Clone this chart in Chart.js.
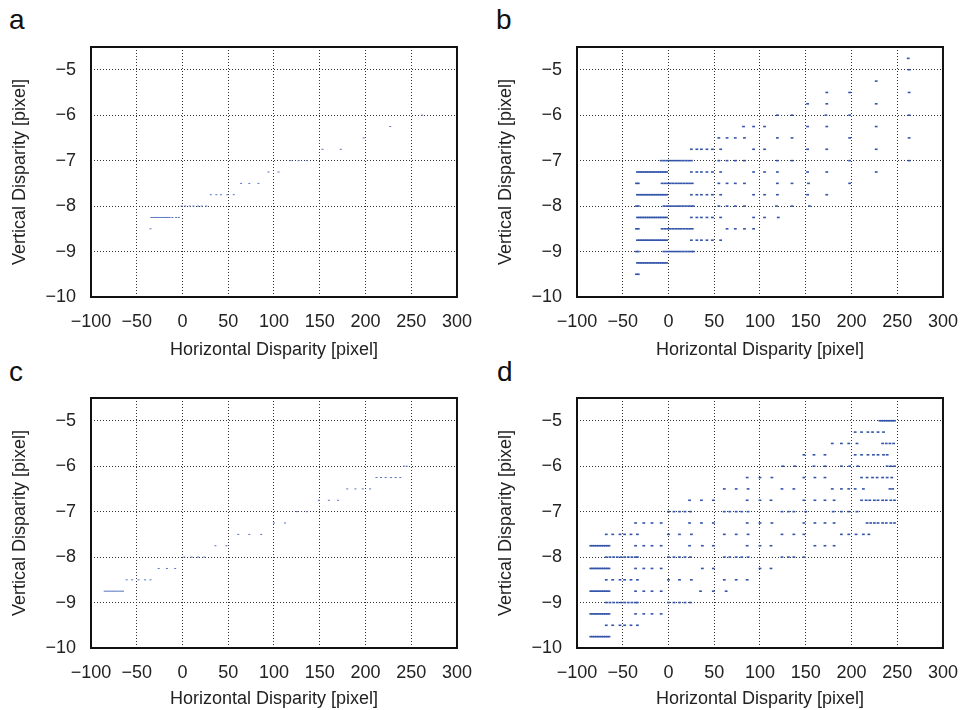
<!DOCTYPE html>
<html>
<head>
<meta charset="utf-8">
<script src="https://cdn.jsdelivr.net/npm/chart.js@4.4.1/dist/chart.umd.min.js"></script>
<style>
  html, body { margin: 0; padding: 0; background: #fff; }
  body { width: 972px; height: 710px; position: relative; overflow: hidden; font-family: "Liberation Sans", Arial, sans-serif; }
  canvas { position: absolute; }
  .tag { position: absolute; font-size: 28px; line-height: 28px; color: #111; }
</style>
</head>
<body>
<div class="tag" style="left:9px;top:6px">a</div>
<div class="tag" style="left:496px;top:6px">b</div>
<div class="tag" style="left:9px;top:358px">c</div>
<div class="tag" style="left:497px;top:358px">d</div>

<canvas id="chartA" width="486" height="363" style="left:0;top:0"></canvas>
<canvas id="chartB" width="486" height="363" style="left:486px;top:0"></canvas>
<canvas id="chartC" width="486" height="355" style="left:0;top:355px"></canvas>
<canvas id="chartD" width="486" height="355" style="left:486px;top:355px"></canvas>

<script>
// axis setup shared by all four panels
const xTicks = [-100, -50, 0, 50, 100, 150, 200, 250, 300];
const yTicks = [-10, -9, -8, -7, -6, -5];
const xTitle = "Horizontal Disparity [pixel]";
const yTitle = "Vertical Disparity [pixel]";

// each row: [vertical disparity, horizontal disparities found at that level]
const aRows = [
  [-8.5, [-35]],
  [-8.25, [-34, -32, -30, -28, -26, -24, -22, -20, -18, -16, -14, -11, -7, -4]],
  [-8, [-1, 3, 8, 12, 17, 21, 26]],
  [-7.75, [31, 37, 42, 49, 56]],
  [-7.5, [64, 73, 83]],
  [-7.25, [94, 105]],
  [-7, [118, 127, 136]],
  [-6.75, [153, 173]],
  [-6.5, [198]],
  [-6.25, [227]],
  [-6, [262]]
];

const bRows = [
  [-4.75, [262]],
  [-5, [263]],
  [-5.25, [227]],
  [-5.5, [173, 198, 263]],
  [-5.75, [152, 173, 227]],
  [-6, [119, 135, 172, 198, 263]],
  [-6.25, [82, 93, 105, 152, 173, 227]],
  [-6.5, [55, 64, 73, 83, 119, 135, 198, 263]],
  [-6.75, [25, 31, 36, 42, 48, 57, 93, 105, 152, 173, 227]],
  [-7, [-8, -5, -2, 1, 4, 7, 10, 13, 16, 19, 22, 25, 55, 64, 73, 83, 119, 135, 198, 263]],
  [-7.25, [-34, -32, -30, -28, -26, -24, -22, -20, -18, -16, -14, -12, -10, -8, -6, -4, -2, 25, 31, 36, 42, 48, 57, 93, 105, 119, 152, 173, 227]],
  [-7.5, [-35, -33, -7, -4, -1, 2, 5, 8, 11, 14, 17, 20, 23, 26, 55, 64, 73, 83, 119, 135, 153, 198]],
  [-7.75, [-34, -32, -30, -28, -26, -24, -22, -20, -18, -16, -14, -12, -10, -8, -6, -4, -2, 25, 31, 36, 42, 48, 57, 93, 105, 119, 152, 173]],
  [-8, [-35, -33, -5, -2, 1, 4, 7, 10, 13, 16, 19, 22, 25, 27, 55, 64, 73, 83, 118, 135, 154]],
  [-8.25, [-34, -32, -30, -28, -26, -24, -22, -20, -18, -16, -14, -12, -10, -8, -6, -4, -2, 25, 31, 36, 42, 48, 57, 93, 105, 120]],
  [-8.5, [-35, -33, -7, -4, -1, 2, 5, 8, 11, 14, 17, 20, 23, 26, 64, 73, 83, 93]],
  [-8.75, [-34, -32, -30, -28, -26, -24, -22, -20, -18, -16, -14, -12, -10, -8, -6, -4, -2, 25, 31, 36, 42, 48, 57]],
  [-9, [-35, -33, -5, -2, 1, 4, 7, 10, 13, 16, 19, 22, 25, 27]],
  [-9.25, [-34, -32, -30, -28, -26, -24, -22, -20, -18, -16, -14, -12, -10, -8, -6, -4, -2]],
  [-9.5, [-35, -33]]
];

const cRows = [
  [-8.75, [-85, -83, -81, -79, -77, -75, -73, -71, -69, -67, -65]],
  [-8.5, [-61, -55, -48, -41, -35]],
  [-8.25, [-26, -17, -8]],
  [-8, [2, 10, 17, 24]],
  [-7.75, [36, 48]],
  [-7.5, [61, 73, 86]],
  [-7.25, [100, 112]],
  [-7, [125, 136]],
  [-6.75, [149, 160, 170]],
  [-6.5, [180, 189, 197, 205]],
  [-6.25, [212, 217, 222, 228, 233, 238]],
  [-6, [242, 245]]
];

const dRows = [
  [-5, [231, 233, 235, 237, 239, 241, 243, 245, 247]],
  [-5.25, [204, 211, 218, 223, 229, 235]],
  [-5.5, [179, 189, 197, 206, 234, 238, 242, 246]],
  [-5.75, [148, 159, 171, 204, 211, 218, 224, 229, 235, 239]],
  [-6, [125, 138, 159, 171, 189, 198, 207, 239, 243, 247]],
  [-6.25, [86, 100, 113, 148, 160, 171, 211, 217, 223, 228, 234, 239, 244]],
  [-6.5, [61, 74, 87, 124, 137, 179, 189, 197, 204, 213, 242, 245]],
  [-6.75, [23, 36, 49, 86, 100, 112, 148, 160, 171, 181, 211, 216, 220, 225, 229, 234, 238, 243, 247]],
  [-7, [0, 6, 12, 18, 24, 61, 67, 74, 80, 87, 124, 131, 137, 150, 180, 189, 197, 206]],
  [-7.25, [-36, -27, -18, -8, 23, 36, 49, 86, 100, 113, 148, 160, 171, 181, 217, 221, 225, 229, 234, 238, 243, 247]],
  [-7.5, [-68, -61, -53, -48, -41, -34, 0, 12, 25, 61, 74, 87, 124, 137, 148, 189, 197, 205, 213, 219]],
  [-7.75, [-85, -83, -81, -79, -77, -75, -73, -71, -69, -67, -65, -36, -27, -18, -8, 23, 37, 49, 86, 100, 112, 160, 171, 181]],
  [-8, [-68, -64, -60, -56, -52, -48, -44, -40, -36, -34, 0, 6, 12, 18, 24, 61, 67, 74, 80, 87, 124, 131, 137, 148]],
  [-8.25, [-85, -83, -81, -79, -77, -75, -73, -71, -69, -67, -65, -36, -27, -18, -8, 37, 49, 100, 112]],
  [-8.5, [-68, -61, -53, -48, -41, -34, 0, 12, 25, 61, 74, 86]],
  [-8.75, [-85, -83, -81, -79, -77, -75, -73, -71, -69, -67, -65, -36, -27, -18, -8, 35, 49, 63]],
  [-9, [-68, -64, -60, -56, -52, -48, -44, -40, -36, -34, 0, 6, 12, 18, 24]],
  [-9.25, [-85, -83, -81, -79, -77, -75, -73, -71, -69, -67, -65, -36, -27, -18, -8]],
  [-9.5, [-68, -61, -53, -48, -41, -34]],
  [-9.75, [-85, -83, -81, -79, -77, -75, -73, -71, -69, -67, -65]]
];

// black frame around the plot area, like matlab's box on
const frameBox = {
  id: 'frameBox',
  afterDraw(chart) {
    const { ctx, chartArea: a } = chart;
    ctx.save();
    ctx.strokeStyle = '#111';
    ctx.lineWidth = 2;
    ctx.strokeRect(a.left, a.top, a.right - a.left, a.bottom - a.top);
    ctx.restore();
  }
};

const fmt = v => (v < 0 ? '\u2212' + Math.abs(v) : String(v));
const font = { family: '"Liberation Sans", Arial, sans-serif', size: 18 };

function makePanel(id, rows, look) {
  const points = [];
  rows.forEach(([y, xs]) => xs.forEach(x => points.push({ x: x, y: y })));

  new Chart(document.getElementById(id), {
    type: 'scatter',
    data: {
      datasets: [{
        data: points,
        pointStyle: 'line',
        pointRadius: look.radius,
        pointBorderWidth: look.width,
        pointBorderColor: look.color,
        pointBackgroundColor: look.color
      }]
    },
    options: {
      responsive: false,
      animation: false,
      events: [],
      layout: { padding: { left: 0, right: 18, top: look.top, bottom: 0 } },
      plugins: { legend: { display: false }, tooltip: { enabled: false } },
      scales: {
        x: {
          type: 'linear',
          min: -100,
          max: 300,
          afterBuildTicks: s => { s.ticks = xTicks.map(v => ({ value: v })); },
          afterFit: s => { s.height = look.xAxisH; },
          grid: { color: '#333', lineWidth: 1, drawTicks: false },
          border: { display: false, dash: [1, 2] },
          ticks: { color: '#222', font: font, padding: 14, maxRotation: 0, autoSkip: false, callback: fmt },
          title: { display: true, text: xTitle, color: '#222', font: font, padding: { top: 0, bottom: look.titleGap } }
        },
        y: {
          type: 'linear',
          min: -10,
          max: -4.5,
          afterBuildTicks: s => { s.ticks = yTicks.map(v => ({ value: v })); },
          afterFit: s => { s.width = 91; },
          grid: { color: '#333', lineWidth: 1, drawTicks: false },
          border: { display: false, dash: [1, 2] },
          ticks: { color: '#222', font: font, padding: 15, callback: fmt },
          title: { display: true, text: yTitle, color: '#222', font: font, padding: { top: 9, bottom: 0 } }
        }
      }
    },
    plugins: [frameBox]
  });
}

const faint = { radius: 1, width: 1, color: '#5573c0' };
const strong = { radius: 1.4, width: 1.6, color: '#3355aa' };

makePanel('chartA', aRows, Object.assign({ top: 47, xAxisH: 66, titleGap: 2 }, faint));
makePanel('chartB', bRows, Object.assign({ top: 47, xAxisH: 66, titleGap: 2 }, strong));
makePanel('chartC', cRows, Object.assign({ top: 43, xAxisH: 62, titleGap: 0 }, faint));
makePanel('chartD', dRows, Object.assign({ top: 43, xAxisH: 62, titleGap: 0 }, strong));
</script>
</body>
</html>
